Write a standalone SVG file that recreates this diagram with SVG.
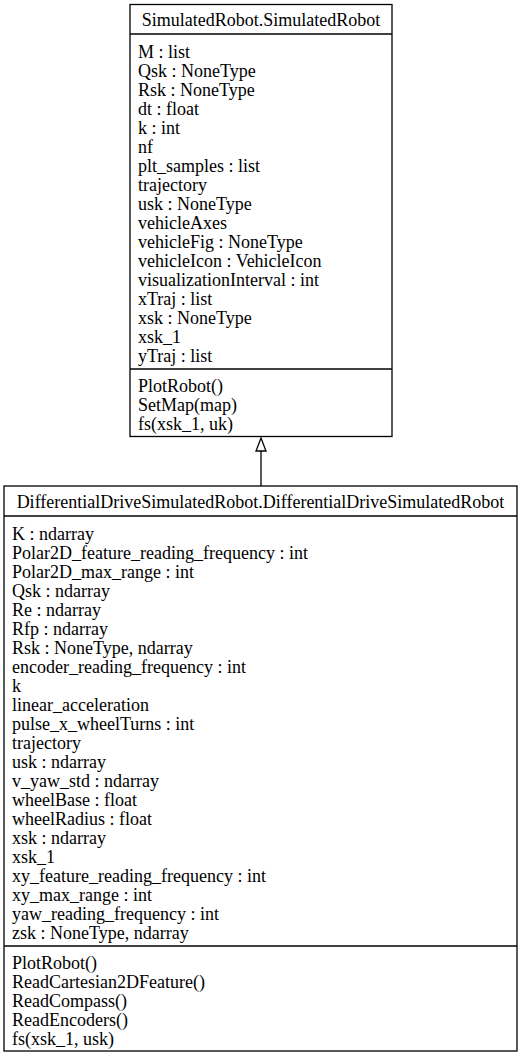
<svg xmlns="http://www.w3.org/2000/svg" width="523" height="1056" viewBox="0 0 523 1056" font-family="Liberation Serif, Tinos, Times New Roman, DejaVu Serif, serif" font-size="18">
<style>
.t{text-anchor:middle}
.box{fill:#fff;stroke:#000;stroke-width:1.3}
.ln{stroke:#000;stroke-width:1.3;fill:none}
</style>
<rect width="523" height="1056" fill="#fff"/>
<g id="connectors">
<line class="ln" x1="261" y1="451" x2="261" y2="486"/>
<polygon points="261,438 256,451 266,451" fill="#fff" stroke="#000" stroke-width="1.3"/>
</g>
<g id="SimulatedRobot">
<rect class="box" x="130" y="4.5" width="262" height="432"/>
<line class="ln" x1="130" y1="34" x2="392" y2="34"/>
<line class="ln" x1="130" y1="369" x2="392" y2="369"/>
<text class="t" x="261" y="26">SimulatedRobot.SimulatedRobot</text>
<text x="138" y="58">M : list</text>
<text x="138" y="77">Qsk : NoneType</text>
<text x="138" y="96">Rsk : NoneType</text>
<text x="138" y="115">dt : float</text>
<text x="138" y="134">k : int</text>
<text x="138" y="153">nf</text>
<text x="138" y="172">plt_samples : list</text>
<text x="138" y="191">trajectory</text>
<text x="138" y="210">usk : NoneType</text>
<text x="138" y="229">vehicleAxes</text>
<text x="138" y="248">vehicleFig : NoneType</text>
<text x="138" y="267">vehicleIcon : VehicleIcon</text>
<text x="138" y="286">visualizationInterval : int</text>
<text x="138" y="305">xTraj : list</text>
<text x="138" y="324">xsk : NoneType</text>
<text x="138" y="343">xsk_1</text>
<text x="138" y="362">yTraj : list</text>
<text x="138" y="392">PlotRobot()</text>
<text x="138" y="411">SetMap(map)</text>
<text x="138" y="430">fs(xsk_1, uk)</text>
</g>
<g id="DifferentialDriveSimulatedRobot">
<rect class="box" x="4" y="486" width="513" height="565"/>
<line class="ln" x1="4" y1="516" x2="517" y2="516"/>
<line class="ln" x1="4" y1="946" x2="517" y2="946"/>
<text class="t" x="260.5" y="508">DifferentialDriveSimulatedRobot.DifferentialDriveSimulatedRobot</text>
<text x="12" y="539.5">K : ndarray</text>
<text x="12" y="558.5">Polar2D_feature_reading_frequency : int</text>
<text x="12" y="577.5">Polar2D_max_range : int</text>
<text x="12" y="596.5">Qsk : ndarray</text>
<text x="12" y="615.5">Re : ndarray</text>
<text x="12" y="634.5">Rfp : ndarray</text>
<text x="12" y="653.5">Rsk : NoneType, ndarray</text>
<text x="12" y="672.5">encoder_reading_frequency : int</text>
<text x="12" y="691.5">k</text>
<text x="12" y="710.5">linear_acceleration</text>
<text x="12" y="729.5">pulse_x_wheelTurns : int</text>
<text x="12" y="748.5">trajectory</text>
<text x="12" y="767.5">usk : ndarray</text>
<text x="12" y="786.5">v_yaw_std : ndarray</text>
<text x="12" y="805.5">wheelBase : float</text>
<text x="12" y="824.5">wheelRadius : float</text>
<text x="12" y="843.5">xsk : ndarray</text>
<text x="12" y="862.5">xsk_1</text>
<text x="12" y="881.5">xy_feature_reading_frequency : int</text>
<text x="12" y="900.5">xy_max_range : int</text>
<text x="12" y="919.5">yaw_reading_frequency : int</text>
<text x="12" y="938.5">zsk : NoneType, ndarray</text>
<text x="12" y="968.5">PlotRobot()</text>
<text x="12" y="987.5">ReadCartesian2DFeature()</text>
<text x="12" y="1006.5">ReadCompass()</text>
<text x="12" y="1025.5">ReadEncoders()</text>
<text x="12" y="1044.5">fs(xsk_1, usk)</text>
</g>
</svg>
